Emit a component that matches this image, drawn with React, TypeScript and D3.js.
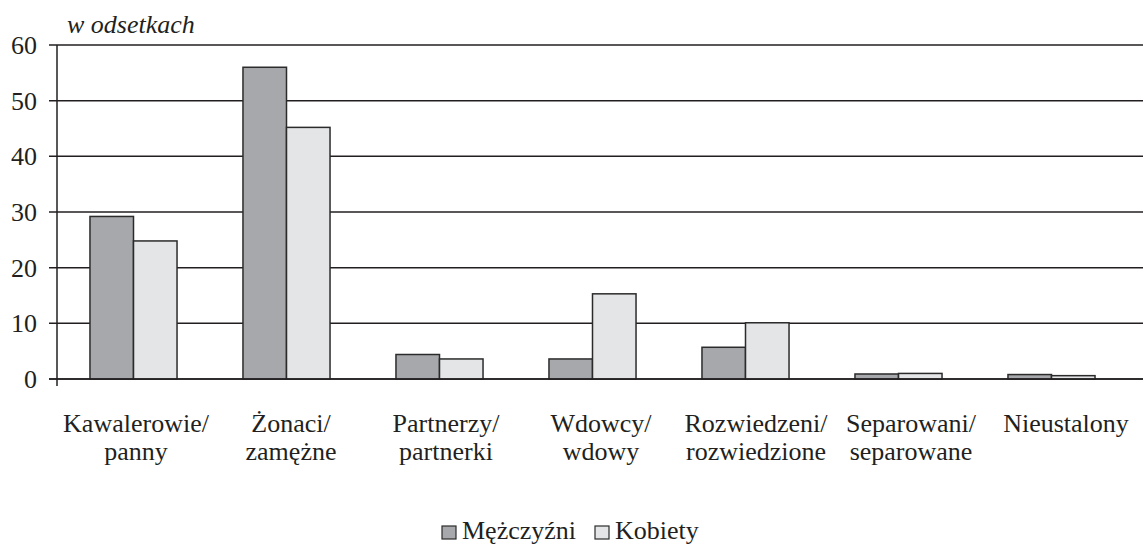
import React from "react";
import * as d3 from "d3";

const categories = [
  ["Kawalerowie/", "panny"],
  ["Żonaci/", "zamężne"],
  ["Partnerzy/", "partnerki"],
  ["Wdowcy/", "wdowy"],
  ["Rozwiedzeni/", "rozwiedzione"],
  ["Separowani/", "separowane"],
  ["Nieustalony"],
];
const men = [29.2, 56.0, 4.4, 3.6, 5.7, 0.9, 0.8];
const women = [24.8, 45.2, 3.6, 15.3, 10.1, 1.0, 0.6];
const yTicks = [0, 10, 20, 30, 40, 50, 60];
const seriesNames = ["Mężczyźni", "Kobiety"];
const unitLabel = "w odsetkach";

const W = 1143;
const H = 544;
const MEN_FILL = "#a7a8ab";
const WOMEN_FILL = "#e4e5e7";
const STROKE = "#2b2b2b";
const INK = "#231f20";
const FS = 26;
const CSS = `svg.chart text { font-family: 'Liberation Serif' !important; fill: ${INK}; }`;

export default function App() {
  const keys = categories.map((c) => c.join(" "));
  const x = d3
    .scaleBand<string>()
    .domain(keys)
    .range([57, 57 + 7 * 153])
    .paddingInner(0.431)
    .paddingOuter(0.2155);
  const xLabel = d3.scalePoint<string>().domain(keys).range([136, 1066]);
  const y = d3.scaleLinear().domain([0, 60]).range([379, 45]);
  const bw = x.bandwidth() / 2;

  const legendX = [442, 595];

  return (
    <svg
      className="chart"
      width={W}
      height={H}
      style={{ position: "absolute", left: 0, top: 0, background: "#fff" }}
    >
      <style>{CSS}</style>
      <rect x={0} y={0} width={W} height={H} fill="#fff" />
      <text x={67} y={33} fontSize={FS} fontFamily="Liberation Serif" fontStyle="italic">
        {unitLabel}
      </text>
      {yTicks.map((t) => (
        <g key={t}>
          <line x1={49} x2={W} y1={y(t)} y2={y(t)} stroke={INK} strokeWidth={1.5} />
          <text
            x={37}
            y={y(t)}
            dy="0.34em"
            textAnchor="end"
            fontSize={FS}
            fontFamily="Liberation Serif"
          >
            {t}
          </text>
        </g>
      ))}
      <line x1={57} x2={57} y1={y(60)} y2={386} stroke={INK} strokeWidth={1.5} />
      {keys.map((k, i) => {
        const x0 = x(k)!;
        return (
          <g key={k}>
            <rect
              x={x0}
              y={y(men[i])}
              width={bw}
              height={y(0) - y(men[i])}
              fill={MEN_FILL}
              stroke={STROKE}
              strokeWidth={1.5}
            />
            <rect
              x={x0 + bw}
              y={y(women[i])}
              width={bw}
              height={y(0) - y(women[i])}
              fill={WOMEN_FILL}
              stroke={STROKE}
              strokeWidth={1.5}
            />
          </g>
        );
      })}
      <line x1={49} x2={W} y1={y(0)} y2={y(0)} stroke={INK} strokeWidth={1.5} />
      {categories.map((lines, i) => {
        const cx = xLabel(keys[i])!;
        return (
          <text
            key={i}
            x={cx}
            textAnchor="middle"
            fontSize={FS}
            fontFamily="Liberation Serif"
          >
            {lines.map((l, j) => (
              <tspan key={j} x={cx} y={432 + j * 28}>
                {l}
              </tspan>
            ))}
          </text>
        );
      })}
      {seriesNames.map((name, i) => (
        <g key={name}>
          <rect
            x={legendX[i]}
            y={526}
            width={14}
            height={13}
            fill={i === 0 ? MEN_FILL : WOMEN_FILL}
            stroke={STROKE}
            strokeWidth={1.2}
          />
          <text x={legendX[i] + 20} y={539} fontSize={FS} fontFamily="Liberation Serif">
            {name}
          </text>
        </g>
      ))}
    </svg>
  );
}
